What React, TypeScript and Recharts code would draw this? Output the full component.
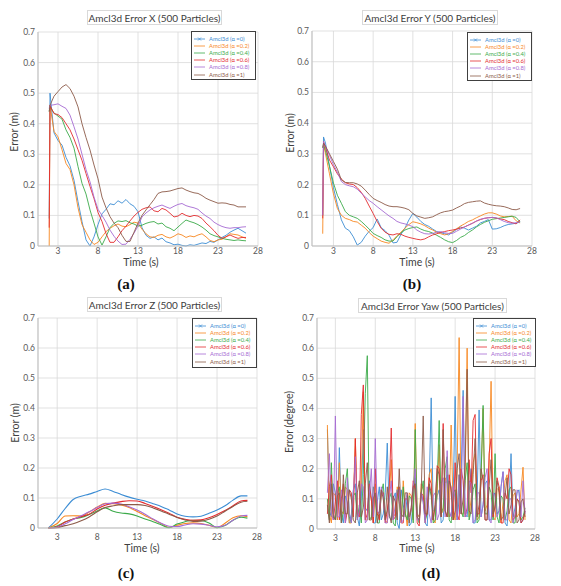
import { CartesianGrid, Line, LineChart, XAxis, YAxis } from 'recharts';

const ALPHAS = ['0', '0.2', '0.4', '0.6', '0.8', '1'];
const COLORS = ['#3C8DD4', '#F7871F', '#3BAA4A', '#E32B2F', '#A66BD3', '#8C5A48'];
const X_TICKS = [3, 8, 13, 18, 23, 28];
const Y_TICKS = [0, 0.1, 0.2, 0.3, 0.4, 0.5, 0.6, 0.7];

// (a) error X
const TIME_X = [1.9, 2, 2.5, 3, 3.5, 4, 4.5, 5, 5.5, 6, 6.5, 7, 7.5, 8, 8.5, 9, 9.5, 10, 10.5, 11, 11.5, 12, 12.5, 13, 13.5, 14, 14.5, 15, 15.5, 16, 16.5, 17, 17.5, 18, 18.5, 19, 19.5, 20, 20.5, 21, 21.5, 22, 22.5, 23, 23.5, 24, 24.5, 25, 25.5, 26, 26.5];
const X_A0 = [0.09, 0.5, 0.37, 0.345, 0.33, 0.29, 0.262, 0.215, 0.145, 0.08, 0.02, 0.0, 0.03, 0.07, 0.105, 0.12, 0.138, 0.135, 0.148, 0.14, 0.152, 0.138, 0.13, 0.112, 0.06, 0.035, 0.025, 0.03, 0.02, 0.026, 0.014, 0.01, 0.004, 0.006, 0.002, 0.0, 0.004, 0.002, 0.006, 0.01, 0.008, 0.015, 0.012, 0.02, 0.028, 0.035, 0.045, 0.052, 0.058, 0.05, 0.042];
const X_A02 = [0.0, 0.46, 0.375, 0.357, 0.315, 0.27, 0.25, 0.2, 0.125, 0.07, 0.045, 0.02, 0.005, 0.012, 0.03, 0.047, 0.058, 0.066, 0.072, 0.065, 0.063, 0.07, 0.078, 0.075, 0.055, 0.04, 0.03, 0.028, 0.035, 0.038, 0.03, 0.026, 0.032, 0.04, 0.036, 0.028, 0.033, 0.03, 0.036, 0.04, 0.03, 0.018, 0.014, 0.02, 0.022, 0.03, 0.04, 0.038, 0.036, 0.03, 0.025];
const X_A04 = [0.44, 0.455, 0.435, 0.425, 0.415, 0.38, 0.355, 0.32, 0.26, 0.205, 0.17, 0.118, 0.075, 0.03, 0.003, 0.03, 0.06, 0.074, 0.082, 0.08, 0.083, 0.076, 0.072, 0.065, 0.068, 0.074, 0.078, 0.08, 0.072, 0.075, 0.063, 0.058, 0.05, 0.062, 0.074, 0.085, 0.08, 0.076, 0.07, 0.062, 0.052, 0.04, 0.034, 0.03, 0.025, 0.022, 0.02, 0.018, 0.02, 0.018, 0.017];
const X_A06 = [0.06, 0.46, 0.433, 0.43, 0.42, 0.4, 0.38, 0.35, 0.315, 0.28, 0.237, 0.195, 0.155, 0.11, 0.08, 0.041, 0.012, 0.012, 0.03, 0.05, 0.065, 0.082, 0.098, 0.11, 0.12, 0.125, 0.128, 0.115, 0.112, 0.123, 0.118, 0.107, 0.095, 0.098, 0.107, 0.1, 0.096, 0.1, 0.098, 0.09, 0.075, 0.063, 0.05, 0.035, 0.025, 0.03, 0.036, 0.03, 0.025, 0.028, 0.028];
const X_A08 = [0.45, 0.46, 0.462, 0.465, 0.457, 0.45, 0.428, 0.39, 0.35, 0.3, 0.25, 0.21, 0.16, 0.12, 0.1, 0.078, 0.052, 0.032, 0.016, 0.005, 0.006, 0.022, 0.042, 0.065, 0.095, 0.108, 0.118, 0.125, 0.13, 0.134, 0.128, 0.123, 0.13, 0.136, 0.139, 0.132, 0.128, 0.125, 0.12, 0.108, 0.098, 0.09, 0.078, 0.07, 0.064, 0.06, 0.058, 0.06, 0.06, 0.062, 0.063];
const X_A1 = [0.44, 0.46, 0.49, 0.505, 0.52, 0.528, 0.515, 0.49, 0.455, 0.4, 0.355, 0.314, 0.265, 0.22, 0.16, 0.125, 0.096, 0.075, 0.06, 0.035, 0.015, 0.015, 0.045, 0.075, 0.1, 0.118, 0.135, 0.152, 0.172, 0.177, 0.178, 0.18, 0.184, 0.188, 0.19, 0.183, 0.178, 0.174, 0.172, 0.165, 0.156, 0.15, 0.145, 0.14, 0.141, 0.14, 0.136, 0.134, 0.128, 0.128, 0.128];

// (b) error Y
const TIME_Y = [1.65, 1.75, 2, 2.5, 3, 3.5, 4, 4.5, 5, 5.5, 6, 6.5, 7, 7.5, 8, 8.5, 9, 9.5, 10, 10.5, 11, 11.5, 12, 12.5, 13, 13.5, 14, 14.5, 15, 15.5, 16, 16.5, 17, 17.5, 18, 18.5, 19, 19.5, 20, 20.5, 21, 21.5, 22, 22.5, 23, 23.5, 24, 24.5, 25, 25.5, 26, 26.5];
const Y_A0 = [0.1, 0.355, 0.335, 0.26, 0.19, 0.135, 0.085, 0.058, 0.05, 0.03, 0.003, 0.012, 0.032, 0.048, 0.06, 0.088, 0.06, 0.05, 0.035, 0.01, 0.012, 0.038, 0.058, 0.085, 0.106, 0.094, 0.08, 0.07, 0.064, 0.055, 0.047, 0.043, 0.04, 0.036, 0.045, 0.054, 0.062, 0.058, 0.052, 0.058, 0.064, 0.075, 0.08, 0.086, 0.055, 0.056, 0.06, 0.066, 0.07, 0.072, 0.074, 0.078];
const Y_A02 = [0.04, 0.33, 0.3, 0.235, 0.17, 0.122, 0.1, 0.09, 0.086, 0.08, 0.078, 0.068, 0.058, 0.044, 0.032, 0.024, 0.016, 0.012, 0.009, 0.02, 0.033, 0.045, 0.058, 0.07, 0.079, 0.076, 0.072, 0.066, 0.058, 0.052, 0.045, 0.04, 0.036, 0.04, 0.047, 0.056, 0.065, 0.072, 0.08, 0.085, 0.092, 0.098, 0.104, 0.108, 0.108, 0.104, 0.098, 0.095, 0.096, 0.097, 0.082, 0.075];
const Y_A04 = [0.32, 0.33, 0.31, 0.26, 0.205, 0.165, 0.139, 0.112, 0.1, 0.095, 0.09, 0.08, 0.068, 0.055, 0.041, 0.034, 0.028, 0.02, 0.016, 0.016, 0.03, 0.043, 0.052, 0.057, 0.06, 0.062, 0.055, 0.05, 0.047, 0.042, 0.035, 0.028, 0.02, 0.014, 0.011, 0.018, 0.028, 0.034, 0.044, 0.052, 0.062, 0.07, 0.077, 0.082, 0.087, 0.089, 0.091, 0.093, 0.095, 0.097, 0.093, 0.078];
const Y_A06 = [0.09, 0.34, 0.32, 0.28, 0.258, 0.235, 0.218, 0.206, 0.202, 0.2, 0.19, 0.175, 0.155, 0.13, 0.106, 0.08, 0.058, 0.045, 0.038, 0.036, 0.04, 0.038, 0.032, 0.028, 0.025, 0.022, 0.02, 0.023, 0.03, 0.036, 0.04, 0.044, 0.047, 0.05, 0.052, 0.055, 0.058, 0.062, 0.068, 0.074, 0.081, 0.086, 0.09, 0.092, 0.093, 0.091, 0.088, 0.086, 0.08, 0.076, 0.072, 0.085];
const Y_A08 = [0.1, 0.34, 0.325, 0.295, 0.265, 0.24, 0.21, 0.2, 0.196, 0.193, 0.185, 0.172, 0.16, 0.148, 0.139, 0.128, 0.118, 0.108, 0.098, 0.09, 0.08, 0.075, 0.072, 0.068, 0.063, 0.052, 0.045, 0.04, 0.039, 0.041, 0.045, 0.047, 0.043, 0.041, 0.041, 0.048, 0.055, 0.062, 0.068, 0.074, 0.081, 0.087, 0.09, 0.092, 0.093, 0.092, 0.086, 0.08, 0.076, 0.074, 0.076, 0.079];
const Y_A1 = [0.32, 0.335, 0.325, 0.3, 0.275, 0.25, 0.215, 0.207, 0.206, 0.206, 0.202, 0.195, 0.182, 0.168, 0.155, 0.148, 0.142, 0.135, 0.13, 0.128, 0.128, 0.126, 0.123, 0.118, 0.106, 0.098, 0.094, 0.09, 0.092, 0.095, 0.102, 0.108, 0.112, 0.114, 0.117, 0.124, 0.13, 0.138, 0.142, 0.144, 0.146, 0.147, 0.14, 0.136, 0.133, 0.131, 0.13, 0.128, 0.124, 0.119, 0.118, 0.122];

// (c) error Z
const TIME_Z = [1.9, 3, 4, 5, 6, 7, 8, 9, 10, 11, 12, 13, 14, 15, 16, 17, 18, 19, 20, 21, 22, 23, 24, 25, 26, 26.8];
const Z_A0 = [0, 0.03, 0.065, 0.095, 0.106, 0.113, 0.122, 0.13, 0.122, 0.112, 0.103, 0.096, 0.09, 0.081, 0.072, 0.06, 0.047, 0.039, 0.037, 0.039, 0.049, 0.06, 0.074, 0.093, 0.107, 0.107];
const Z_A02 = [0, 0.015, 0.04, 0.041, 0.04, 0.053, 0.07, 0.082, 0.081, 0.077, 0.068, 0.055, 0.041, 0.028, 0.015, 0.002, 0.009, 0.015, 0.017, 0.015, 0.009, 0.001, 0.016, 0.034, 0.041, 0.038];
const Z_A04 = [0, 0.007, 0.02, 0.03, 0.035, 0.045, 0.057, 0.067, 0.056, 0.05, 0.047, 0.04, 0.03, 0.021, 0.011, 0.001, 0.013, 0.021, 0.026, 0.025, 0.017, 0.001, 0.008, 0.026, 0.036, 0.033];
const Z_A06 = [0, 0.004, 0.02, 0.03, 0.038, 0.046, 0.063, 0.076, 0.083, 0.088, 0.091, 0.09, 0.082, 0.072, 0.061, 0.049, 0.036, 0.029, 0.026, 0.027, 0.034, 0.045, 0.058, 0.074, 0.09, 0.092];
const Z_A08 = [0, 0.002, 0.014, 0.028, 0.041, 0.054, 0.068, 0.081, 0.083, 0.08, 0.071, 0.06, 0.046, 0.03, 0.016, 0.006, 0.005, 0.01, 0.014, 0.013, 0.009, 0.004, 0.009, 0.026, 0.04, 0.042];
const Z_A1 = [0, 0.001, 0.008, 0.014, 0.024, 0.037, 0.054, 0.068, 0.074, 0.078, 0.078, 0.078, 0.075, 0.067, 0.057, 0.046, 0.035, 0.027, 0.022, 0.023, 0.029, 0.04, 0.056, 0.072, 0.086, 0.089];

// (d) error yaw
const TIME_YAW = [
  2, 2.25, 2.5, 2.75, 3, 3.25, 3.5, 3.75, 4, 4.25, 4.5, 4.75, 5, 5.25, 5.5, 5.75, 6, 6.25, 6.5, 6.75,
  7, 7.25, 7.5, 7.75, 8, 8.25, 8.5, 8.75, 9, 9.25, 9.5, 9.75, 10, 10.25, 10.5, 10.75, 11, 11.25, 11.5, 11.75,
  12, 12.25, 12.5, 12.75, 13, 13.25, 13.5, 13.75, 14, 14.25, 14.5, 14.75, 15, 15.25, 15.5, 15.75, 16, 16.25, 16.5, 16.75,
  17, 17.25, 17.5, 17.75, 18, 18.25, 18.5, 18.75, 19, 19.25, 19.5, 19.75, 20, 20.25, 20.5, 20.75, 21, 21.25, 21.5, 21.75,
  22, 22.25, 22.5, 22.75, 23, 23.25, 23.5, 23.75, 24, 24.25, 24.5, 24.75, 25, 25.25, 25.5, 25.75, 26, 26.25, 26.5, 26.75,
];
const YAW_A0 = [
  0.33, 0.06, 0.04, 0.15, 0.12, 0.03, 0.27, 0.05, 0.02, 0.11, 0.09, 0.02, 0.05, 0.13, 0.15, 0.04, 0.01, 0.1, 0.33, 0.07,
  0.06, 0.16, 0.1, 0.02, 0.02, 0.09, 0.14, 0.03, 0.05, 0.12, 0.285, 0.04, 0.03, 0.1, 0.12, 0.02, 0.0, 0.13, 0.08, 0.04,
  0.11, 0.01, 0.02, 0.09, 0.17, 0.05, 0.04, 0.12, 0.09, 0.02, 0.01, 0.14, 0.435, 0.06, 0.06, 0.11, 0.13, 0.02, 0.03, 0.15,
  0.18, 0.04, 0.05, 0.1, 0.44, 0.03, 0.1, 0.17, 0.46, 0.05, 0.04, 0.12, 0.2, 0.02, 0.02, 0.1, 0.395, 0.04, 0.08, 0.15,
  0.16, 0.03, 0.03, 0.11, 0.12, 0.05, 0.06, 0.14, 0.19, 0.02, 0.01, 0.09, 0.25, 0.04, 0.07, 0.12, 0.13, 0.02, 0.03, 0.06,
];
const YAW_A02 = [
  0.345, 0.05, 0.02, 0.12, 0.11, 0.03, 0.22, 0.06, 0.05, 0.14, 0.13, 0.02, 0.02, 0.1, 0.3, 0.04, 0.06, 0.16, 0.455, 0.03,
  0.03, 0.12, 0.1, 0.02, 0.15, 0.05, 0.04, 0.13, 0.12, 0.03, 0.02, 0.1, 0.23, 0.04, 0.05, 0.14, 0.09, 0.02, 0.16, 0.06,
  0.01, 0.12, 0.11, 0.03, 0.35, 0.05, 0.04, 0.15, 0.13, 0.02, 0.07, 0.18, 0.2, 0.03, 0.02, 0.12, 0.28, 0.05, 0.06, 0.17,
  0.15, 0.04, 0.345, 0.06, 0.03, 0.2, 0.635, 0.05, 0.05, 0.16, 0.6, 0.04, 0.1, 0.22, 0.25, 0.03, 0.04, 0.18, 0.4, 0.06,
  0.08, 0.2, 0.49, 0.04, 0.03, 0.13, 0.14, 0.02, 0.09, 0.16, 0.18, 0.03, 0.02, 0.11, 0.12, 0.04, 0.05, 0.13, 0.205, 0.03,
];
const YAW_A04 = [
  0.1, 0.03, 0.22, 0.05, 0.03, 0.12, 0.14, 0.02, 0.06, 0.15, 0.2, 0.04, 0.02, 0.11, 0.12, 0.03, 0.08, 0.02, 0.18, 0.45,
  0.575, 0.03, 0.04, 0.14, 0.1, 0.02, 0.02, 0.12, 0.15, 0.04, 0.06, 0.1, 0.12, 0.02, 0.01, 0.13, 0.09, 0.03, 0.14, 0.05,
  0.03, 0.11, 0.1, 0.02, 0.33, 0.04, 0.02, 0.12, 0.16, 0.03, 0.05, 0.14, 0.11, 0.02, 0.03, 0.15, 0.36, 0.05, 0.07, 0.2,
  0.24, 0.03, 0.02, 0.12, 0.13, 0.04, 0.18, 0.06, 0.04, 0.16, 0.22, 0.03, 0.06, 0.13, 0.15, 0.02, 0.03, 0.18, 0.41, 0.05,
  0.05, 0.14, 0.12, 0.03, 0.25, 0.04, 0.02, 0.11, 0.1, 0.03, 0.06, 0.13, 0.14, 0.02, 0.02, 0.1, 0.09, 0.03, 0.04, 0.07,
];
const YAW_A06 = [
  0.05, 0.14, 0.18, 0.03, 0.09, 0.16, 0.03, 0.1, 0.15, 0.02, 0.06, 0.13, 0.12, 0.04, 0.3, 0.05, 0.04, 0.38, 0.478, 0.03,
  0.05, 0.15, 0.1, 0.02, 0.2, 0.05, 0.03, 0.12, 0.12, 0.02, 0.06, 0.14, 0.335, 0.03, 0.04, 0.11, 0.14, 0.02, 0.02, 0.1,
  0.1, 0.04, 0.07, 0.16, 0.13, 0.02, 0.01, 0.12, 0.11, 0.04, 0.05, 0.17, 0.15, 0.03, 0.08, 0.21, 0.2, 0.04, 0.35, 0.06,
  0.04, 0.18, 0.12, 0.03, 0.22, 0.05, 0.03, 0.2, 0.16, 0.04, 0.07, 0.23, 0.12, 0.36, 0.38, 0.05, 0.05, 0.16, 0.18, 0.03,
  0.03, 0.25, 0.3, 0.04, 0.08, 0.17, 0.14, 0.02, 0.02, 0.12, 0.1, 0.2, 0.18, 0.03, 0.04, 0.1, 0.09, 0.02, 0.03, 0.06,
];
const YAW_A08 = [
  0.12, 0.25, 0.05, 0.03, 0.375, 0.04, 0.04, 0.13, 0.1, 0.02, 0.17, 0.05, 0.02, 0.12, 0.24, 0.03, 0.06, 0.15, 0.14, 0.02,
  0.03, 0.11, 0.2, 0.04, 0.3, 0.06, 0.05, 0.14, 0.11, 0.02, 0.02, 0.1, 0.16, 0.03, 0.08, 0.13, 0.13, 0.02, 0.03, 0.09,
  0.12, 0.04, 0.06, 0.14, 0.2, 0.03, 0.03, 0.12, 0.09, 0.02, 0.14, 0.05, 0.02, 0.11, 0.12, 0.03, 0.05, 0.15, 0.17, 0.04,
  0.26, 0.06, 0.04, 0.14, 0.1, 0.03, 0.18, 0.05, 0.44, 0.04, 0.06, 0.16, 0.15, 0.02, 0.03, 0.12, 0.12, 0.04, 0.08, 0.17,
  0.2, 0.03, 0.02, 0.12, 0.11, 0.04, 0.06, 0.14, 0.19, 0.03, 0.03, 0.1, 0.1, 0.02, 0.05, 0.13, 0.12, 0.04, 0.16, 0.05,
];
const YAW_A1 = [
  0.08, 0.02, 0.15, 0.04, 0.03, 0.11, 0.12, 0.02, 0.18, 0.05, 0.05, 0.13, 0.1, 0.03, 0.02, 0.12, 0.16, 0.04, 0.07, 0.15,
  0.22, 0.03, 0.03, 0.1, 0.12, 0.02, 0.06, 0.13, 0.1, 0.03, 0.14, 0.05, 0.02, 0.11, 0.09, 0.03, 0.2, 0.05, 0.04, 0.12,
  0.12, 0.02, 0.07, 0.14, 0.15, 0.04, 0.03, 0.12, 0.375, 0.05, 0.05, 0.15, 0.12, 0.03, 0.08, 0.2, 0.18, 0.04, 0.33, 0.06,
  0.04, 0.16, 0.14, 0.03, 0.06, 0.2, 0.25, 0.05, 0.1, 0.22, 0.53, 0.06, 0.05, 0.18, 0.3, 0.04, 0.08, 0.2, 0.16, 0.03,
  0.03, 0.14, 0.23, 0.05, 0.07, 0.16, 0.12, 0.03, 0.04, 0.11, 0.17, 0.05, 0.08, 0.13, 0.13, 0.02, 0.03, 0.09, 0.1, 0.04,
];

const FONT = 'Lato, "Open Sans", sans-serif';

const PANELS = [
  {
    x: 0, y: 0, title: 'Amcl3d Error X (500 Particles)', titleBox: [87, 10, 222, 25],
    time: TIME_X, series: [X_A0, X_A02, X_A04, X_A06, X_A08, X_A1], xDomain: [0.5, 28],
    plot: { left: 38, right: 258, top: 32, bottom: 246 }, legend: [191, 31, 256, 80],
    yLabel: 'Error (m)', yLabelAt: [14, 132], xLabelAt: [141, 262], caption: '(a)', captionAt: [126, 284], tickGap: 2, smooth: false,
  },
  {
    x: 280, y: 0, title: 'Amcl3d Error Y (500 Particles)', titleBox: [82, 10, 218, 25],
    time: TIME_Y, series: [Y_A0, Y_A02, Y_A04, Y_A06, Y_A08, Y_A1], xDomain: [0.3, 28],
    plot: { left: 32, right: 252, top: 31, bottom: 246 }, legend: [187, 32, 252, 81],
    yLabel: 'Error (m)', yLabelAt: [10, 133], xLabelAt: [137, 262], caption: '(b)', captionAt: [132, 284], tickGap: 2, smooth: false,
  },
  {
    x: 0, y: 290, title: 'Amcl3d Error Z (500 Particles)', titleBox: [87, 7, 222, 22],
    time: TIME_Z, series: [Z_A0, Z_A02, Z_A04, Z_A06, Z_A08, Z_A1], xDomain: [0.6, 28],
    plot: { left: 38, right: 257, top: 28, bottom: 238 }, legend: [192, 28, 257, 78],
    yLabel: 'Error (m)', yLabelAt: [15, 133], xLabelAt: [142, 258], caption: '(c)', captionAt: [126, 283], tickGap: 6, smooth: true,
  },
  {
    x: 280, y: 290, title: 'Amcl3d Error Yaw (500 Particles)', titleBox: [78, 8, 227, 23],
    time: TIME_YAW, series: [YAW_A0, YAW_A02, YAW_A04, YAW_A06, YAW_A08, YAW_A1], xDomain: [0.7, 28],
    plot: { left: 37, right: 255, top: 28, bottom: 239 }, legend: [193, 28, 256, 77],
    yLabel: 'Error (degree)', yLabelAt: [9, 132], xLabelAt: [137, 258], caption: '(d)', captionAt: [151, 283], tickGap: 6, smooth: false,
  },
];

function LegendBox({ box }: { box: number[] }) {
  return (
    <div
      style={{
        position: 'absolute', left: box[0], top: box[1], width: box[2] - box[0], height: box[3] - box[1],
        border: '1.5px solid #404040', boxSizing: 'border-box', background: '#fff', paddingTop: 3,
      }}
    >
      {ALPHAS.map((a, i) => (
        <div key={a} style={{ height: 7.2, display: 'flex', alignItems: 'center', whiteSpace: 'nowrap' }}>
          <svg width={17} height={6} style={{ flex: 'none' }}>
            <line x1={2} x2={13} y1={3} y2={3} stroke={COLORS[i]} strokeWidth={0.8} />
            {i === 0 && <path d="M6 1.5 L9 4.5 M9 1.5 L6 4.5" stroke={COLORS[i]} strokeWidth={0.7} />}
          </svg>
          <span style={{ fontSize: 5.8, lineHeight: 1, color: COLORS[i], fontFamily: FONT }}>{`Amcl3d (α =${a})`}</span>
        </div>
      ))}
    </div>
  );
}

function Panel({ p }: { p: any }) {
  const data = p.time.map((t: number, i: number) => {
    const row: any = { t };
    p.series.forEach((s: number[], k: number) => (row['s' + k] = s[i]));
    return row;
  });
  const { left, right, top, bottom } = p.plot;
  const tb = p.titleBox;
  const tick = { fill: '#595959', fontSize: 8.5, fontFamily: FONT };
  const label = { fontSize: 10.5, color: '#404040', fontFamily: FONT, whiteSpace: 'nowrap' as const };
  return (
    <div style={{ position: 'absolute', left: p.x, top: p.y, width: 280, height: 296 }}>
      <div
        style={{
          position: 'absolute', left: tb[0], top: tb[1], width: tb[2] - tb[0], height: tb[3] - tb[1],
          border: '1px solid #d9d9d9', boxSizing: 'border-box', display: 'flex', alignItems: 'center',
          justifyContent: 'center', fontSize: 10, color: '#404040', fontFamily: FONT, whiteSpace: 'nowrap',
        }}
      >
        {p.title}
      </div>
      <div style={{ position: 'absolute', left: 0, top: 0 }}>
        <LineChart width={280} height={290} data={data} margin={{ top, right: 280 - right, left: 0, bottom: 0 }}>
          <CartesianGrid stroke="#d9d9d9" strokeWidth={0.8} />
          <XAxis
            dataKey="t" type="number" domain={p.xDomain} ticks={X_TICKS} height={290 - bottom}
            tick={tick} tickLine={false} tickSize={0} tickMargin={p.tickGap} axisLine={{ stroke: '#bfbfbf' }}
          />
          <YAxis
            domain={[0, 0.7]} ticks={Y_TICKS} width={left} tick={tick} tickLine={false} tickSize={0} tickMargin={3}
            axisLine={{ stroke: '#bfbfbf' }} tickFormatter={(v: number) => (v === 0 ? '0' : String(v))}
          />
          {p.series.map((_: number[], k: number) => (
            <Line
              key={k} type={p.smooth ? 'monotone' : 'linear'} dataKey={'s' + k} stroke={COLORS[k]}
              strokeWidth={p.smooth ? 1.1 : 0.9} dot={false} isAnimationActive={false}
            />
          ))}
        </LineChart>
      </div>
      <LegendBox box={p.legend} />
      <div style={{ ...label, position: 'absolute', left: p.xLabelAt[0], top: p.xLabelAt[1], transform: 'translate(-50%, -50%)' }}>
        Time (s)
      </div>
      <div
        style={{
          ...label, position: 'absolute', left: p.yLabelAt[0], top: p.yLabelAt[1],
          transform: 'translate(-50%, -50%) rotate(-90deg)',
        }}
      >
        {p.yLabel}
      </div>
      <div
        style={{
          position: 'absolute', left: p.captionAt[0], top: p.captionAt[1], transform: 'translate(-50%, -50%)',
          fontSize: 15, fontWeight: 'bold', fontFamily: '"Liberation Serif", serif', color: '#111',
        }}
      >
        {p.caption}
      </div>
    </div>
  );
}

export default function App() {
  return (
    <div style={{ position: 'absolute', left: 0, top: 0, width: 561, height: 586, background: '#fff', overflow: 'hidden' }}>
      {PANELS.map((p) => (
        <Panel key={p.caption} p={p} />
      ))}
    </div>
  );
}
